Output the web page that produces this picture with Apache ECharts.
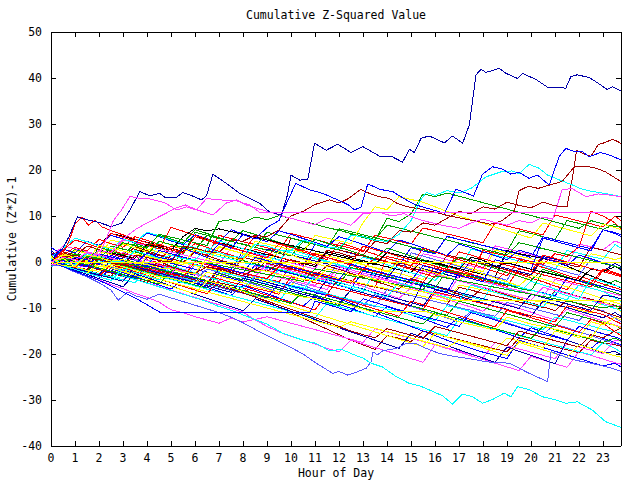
<!DOCTYPE html>
<html><head><meta charset="utf-8">
<script src="https://cdn.jsdelivr.net/npm/echarts@6/dist/echarts.min.js"></script>
<style>html,body{margin:0;padding:0;background:#fff}#c{width:640px;height:480px}#c svg path{shape-rendering:crispEdges}</style>
</head><body><div id="c"></div>
<script>
const TITLE = 'Cumulative Z-Squared Value';
const X_NAME = 'Hour of Day';
const Y_NAME = 'Cumulative (Z*Z)-1';
const X_MIN = 0, X_MAX = 23.75, Y_MIN = -40, Y_MAX = 50;

// sample times (hours) for the half-hourly series
const HALF_HOURS = [0,0.5,1,1.5,2,2.5,3,3.5,4,4.5,5,5.5,6,6.5,7,7.5,8,8.5,9,9.5,10,10.5,11,11.5,12,12.5,13,13.5,14,14.5,15,15.5,16,16.5,17,17.5,18,18.5,19,19.5,20,20.5,21,21.5,22,22.5,23,23.5,23.75];

const RED='#ff0000', GREEN='#00a000', BLUE='#0000ff', MAGENTA='#ff40ff', CYAN='#00ffff',
      DARKRED='#a00000', YELLOW='#ffff00', BLACK='#000000', NAVY='#0000a8', PERI='#5a5aff';

// ---- traced outlier lines: [hour, value] ----
const NAVY_TOP = [[0,0],[0.25,2],[0.5,3],[0.75,5.5],[1.1,9.8],[1.5,9.2],[2,8.6],[2.5,7.7],[2.94,8.4],[3.29,11.3],[3.7,15.3],[4.12,14.4],[4.53,14.9],[4.74,14.1],[5.23,14.1],[5.5,15.1],[5.92,14.3],[6.27,13.5],[6.48,14.4],[6.75,19.1],[7.3,17.1],[7.86,14.9],[8.28,13.8],[8.69,12.8],[9.1,10.9],[9.6,10.2],[9.85,14.5],[10.0,18.9],[10.36,17.8],[10.7,18.0],[10.98,25.8],[11.47,24.3],[11.95,25.6],[12.5,23.8],[12.99,25.1],[13.69,23.0],[14.17,23.0],[14.65,21.7],[14.93,24.5],[15.14,23.8],[15.42,26.9],[15.76,27.4],[16.39,25.9],[16.73,27.4],[17.15,25.8],[17.43,29.8],[17.71,40.7],[17.92,41.9],[18.12,41.2],[18.68,42.1],[18.96,41.0],[19.44,39.9],[19.65,41.0],[20.2,39.7],[20.69,38.0],[21.45,37.8],[21.66,40.3],[21.93,40.7],[22.42,40.1],[22.7,39.2],[23.18,37.5],[23.39,38.1],[23.75,37.2]];
const BLUE_HIGH = [[0,0],[0.5,-0.5],[1,1],[1.5,0.5],[2,-0.5],[2.5,1.5],[3,0.5],[3.5,-0.5],[4,2],[4.5,1],[5,0.5],[5.5,3],[6,2],[6.5,1],[7,4],[7.5,3],[8,6],[8.5,5],[9,7.5],[9.5,9],[9.8,12.6],[10.2,17.1],[10.77,15.7],[11.33,14.9],[11.95,13.5],[12.4,12.4],[12.65,11.3],[12.92,12.0],[13.2,17.0],[13.69,15.8],[14.24,15.3],[14.8,13.5],[15.2,12.4],[15.8,11.5],[16.4,10.6],[16.87,15.8],[17.3,15.0],[17.6,14.3],[17.98,19.1],[18.4,20.7],[18.8,20.2],[19.16,19.1],[19.5,19.5],[19.92,18.2],[20.27,18.9],[20.76,16.7],[21.17,22.9],[21.45,24.7],[21.8,24.0],[22.14,24.0],[22.42,22.9],[22.9,23.8],[23.3,23.2],[23.75,22.2]];
const CYAN_HIGH = [[0,0.5],[0.5,-0.3],[1,-0.5],[1.5,1.8],[2,1],[2.5,0.2],[3,0],[3.5,2.5],[4,1.6],[4.5,0.8],[5,1.5],[5.5,0.7],[6,0.5],[6.5,3],[7,2],[7.5,1.2],[8,1],[8.5,3.8],[9,3.5],[9.5,2.6],[10,2.5],[10.5,4.8],[11,4],[11.5,3.2],[12,3],[12.5,5.8],[13,5.5],[13.5,4.7],[14,4.5],[14.5,6],[15,9],[15.4,13.5],[15.63,15.1],[16,14.5],[16.5,15.5],[17,15],[17.5,16],[18.12,18.5],[18.75,19.6],[19.2,19.8],[19.5,19.2],[19.92,21.2],[20.3,20.5],[20.69,18.9],[21.2,17.8],[21.7,16.8],[22.14,15.8],[22.6,15.3],[23.1,14.9],[23.75,14.2]];
const DARKRED_HIGH = [[0,0],[0.5,1],[1,1.5],[1.5,0.8],[2,0.5],[2.5,-0.2],[3,-1],[3.5,1.5],[4,1],[4.5,0.3],[5,0],[5.5,3.5],[6,3],[6.5,2.3],[7,2],[7.5,4.8],[8,4.5],[8.5,5.8],[9,5.5],[9.5,7],[10,10],[10.5,11],[11,12.5],[11.6,13.5],[12.0,12.8],[12.4,13.8],[12.9,15.8],[13.27,14.9],[13.69,14.2],[14.1,13.8],[14.4,12.8],[14.86,12.0],[15.4,11.5],[16,10.8],[16.6,10],[17.2,9.4],[17.8,8.8],[18.3,8.2],[18.8,9],[19.3,11],[19.5,15.5],[19.9,16.5],[20.3,16],[20.76,16.7],[21.3,17.5],[21.8,20.7],[22.42,20.7],[22.7,20.4],[23.1,19.6],[23.75,17.5]];
const DARKRED_26 = [[0,0],[0.5,-0.8],[1,-1],[1.5,0.8],[2,0.5],[2.5,-0.2],[3,-0.5],[3.5,-1.3],[4,-2],[4.5,0.2],[5,-1],[5.5,-1.8],[6,-2.5],[6.5,-1],[7,-1.5],[7.5,-2.3],[8,-3],[8.5,-1.5],[9,-2],[9.5,-0.5],[10,0.5],[10.5,-0.2],[11,-0.5],[11.5,2.5],[12,2],[12.5,1.2],[13,1.5],[13.5,4.5],[14,4],[14.5,6.8],[15,6.5],[15.5,8.5],[16,8],[16.5,9.5],[17,11],[17.5,10.5],[18,12],[18.5,11.5],[19,13],[19.5,12.3],[20,11.8],[20.5,13],[21,12.2],[21.5,12],[21.75,19],[21.9,24.3],[22.2,23.5],[22.5,23],[22.8,25.5],[23.1,26.0],[23.4,26.7],[23.6,26.2],[23.75,25.8]];
const MAGENTA_FLAT = [[0,0],[0.5,1],[1,0.5],[1.5,2],[2,1.5],[2.3,5],[2.6,9],[2.94,11.3],[3.29,14.3],[3.7,13.8],[4.12,13.7],[4.74,12.9],[5.23,11.3],[5.64,12.0],[6.06,11.3],[6.48,13.8],[7.03,13.5],[7.72,13.3],[8.28,12.4],[8.69,10.8],[23.75,10.8]];
const MAGENTA_HIGH = [[0,0],[0.5,-0.5],[1,1],[1.5,0.5],[2,2.5],[2.5,2],[3,5],[3.5,7],[4,8.5],[4.53,9.9],[5.2,11.7],[5.6,12.4],[6.1,11.3],[6.75,10.2],[7.3,12.8],[7.72,13.5],[8.14,12.4],[8.56,11.7],[9.1,10.9],[9.5,10.2],[10,9.5],[10.5,8.8],[11,8.1],[11.5,9.5],[12,8.8],[12.5,8],[13,10.5],[13.7,10.8],[14.2,10],[14.7,10.5],[15.3,9.3],[15.8,8.6],[16.3,8],[17,7.3],[17.5,8.5],[18,9.3],[18.5,8.6],[19,8],[19.5,9],[20,8.5],[20.5,9.8],[20.9,9.3],[21.3,15.7],[21.7,16],[22.3,14.2],[22.8,14.8],[23.2,14.6],[23.75,14.2]];
const BLUE_FLAT = [[0,0],[0.5,-1],[1,-2],[1.5,-3],[2,-4],[2.5,-5.2],[3,-6.5],[3.5,-7.8],[4,-9.3],[4.53,-10.9],[10.8,-10.9],[11.0,-8.5],[11.5,-9.2],[12,-10],[12.5,-10.8],[13,-8],[13.5,-8.8],[14,-9.6],[14.5,-10.4],[15,-11],[15.5,-11.8],[16,-12.5],[16.5,-13.2],[17,-14],[17.5,-11],[18,-11.8],[18.5,-12.6],[19,-13.4],[19.5,-14.2],[20,-15],[20.5,-15.7],[21,-16.3],[21.5,-17],[22,-14],[22.5,-14.8],[23,-15.6],[23.5,-16.3],[23.75,-16.8]];
const YELLOW_FLAT0 = [[0,1.2],[0.25,0],[23.75,0]];
const YELLOW_FLAT8 = [[0,0],[0.5,-0.8],[1,-1],[1.5,1.5],[2,1],[2.5,0.2],[3,0.5],[3.5,-0.3],[4,-0.5],[4.5,-1.3],[5,-1.5],[5.5,-2.3],[6,-2.5],[6.5,0.8],[7,0],[7.5,-0.8],[8,-1],[8.5,-1.8],[9,-2],[9.5,-2.8],[10,-3],[10.5,-3.8],[11,-4],[11.5,-1.5],[12,-2],[12.5,-2.8],[13,-3],[13.5,-3.8],[14,-4.5],[14.5,-5.3],[15,-6],[15.5,-6.5],[16,-7],[16.4,-7.8],[16.7,-8.3],[23.75,-8.3]];
const YELLOW_FLAT11 = [[0,0],[0.5,0.8],[1,-1],[1.5,-1.8],[2,-2],[2.5,-0.5],[3,-1],[3.5,-1.8],[4,-2.5],[4.5,-3.2],[5,-3.5],[5.5,-4.2],[6,-4.5],[6.5,-2.2],[7,-3],[7.5,-3.8],[8,-4.5],[8.5,-5.3],[9,-6],[9.5,-6.6],[10,-7],[10.5,-7.6],[11,-8],[11.5,-8.6],[12,-9],[12.5,-9.5],[12.8,-10],[13.3,-10.7],[15.6,-10.7],[16,-11.5],[16.5,-12],[17,-13],[17.5,-13.6],[18,-14.2],[18.5,-14.8],[19,-12],[19.5,-12.7],[20,-13.5],[20.5,-14],[21,-14.6],[21.5,-15.2],[22,-16],[22.5,-16.5],[23,-13],[23.5,-13.8],[23.75,-14.3]];
const CYAN_BOTTOM = [[0,0],[0.5,-0.8],[1,-1.6],[1.5,-2.4],[2,-3.2],[2.5,-4.0],[3,-3.0],[3.5,-3.8],[4,-4.6],[4.5,-5.4],[5,-6.2],[5.5,-7.0],[6,-7.8],[6.5,-8.6],[6.9,-9.5],[7.5,-10.5],[8,-11.5],[8.5,-12.5],[9,-13.5],[9.66,-15.5],[10.5,-17],[11.05,-17.7],[11.6,-19.3],[12.1,-19.0],[12.65,-20.2],[13.0,-20.9],[13.34,-22.0],[13.8,-22.8],[14.38,-24.9],[14.93,-26.4],[15.35,-26.9],[15.76,-27.8],[16.32,-29.1],[16.73,-30.9],[17.15,-28.7],[17.57,-29.3],[17.98,-30.7],[18.4,-29.9],[18.88,-28.5],[19.16,-29.3],[19.44,-27.1],[19.92,-27.7],[20.48,-29.3],[21.04,-30.0],[21.45,-30.7],[21.93,-30.4],[22.56,-32.2],[23.1,-34.7],[23.67,-35.8],[23.75,-36]];
const PERI_LOW = [[0,0],[0.5,-1],[1,-2.2],[1.5,-3.2],[2,-4.5],[2.5,-6.1],[2.8,-8.3],[3.2,-6.5],[3.5,-7.3],[4,-8.1],[4.5,-7],[5,-7.8],[5.5,-8.6],[6,-9.4],[6.5,-10.2],[7,-11],[7.5,-12],[8,-13.2],[8.56,-14.8],[9,-16],[9.5,-17.3],[10,-18.6],[10.5,-20],[11.05,-22],[11.74,-24.2],[12.0,-23.8],[12.37,-24.6],[12.7,-24],[13.13,-23.1],[13.34,-21.7],[13.41,-19.5],[13.6,-20.2],[13.82,-19.3],[14.38,-18.8],[14.8,-17.7],[15.2,-17.7],[15.6,-18.7],[16.18,-19.9],[16.87,-20.6],[17.43,-21.0],[18.12,-21.7],[19.1,-22.0],[19.92,-24.2],[20.69,-26.0],[20.83,-19.5],[21.2,-20.2],[21.6,-21],[22,-21.5],[22.5,-22],[23,-22.6],[23.5,-23.3],[23.75,-23.8]];
const RED_EARLY = [[0,0],[0.5,2],[0.75,4.5],[1,8.3],[1.3,9.8],[1.55,8],[1.83,9.1],[2.1,7.7],[2.5,6.8],[3,5.9],[3.5,5.0],[4,4.2],[4.5,3.4],[5,2.6],[5.5,1.9],[6,5.5],[6.5,4.7],[7,3.9],[7.5,3.1],[8,2.4],[8.5,1.6],[9,0.9],[9.5,4.0],[10,3.2],[10.5,2.5],[11,1.7],[11.5,1.0],[12,0.3],[12.5,-0.4],[13,3.5],[13.5,2.7],[14,2.0],[14.5,1.2],[15,0.5],[15.5,-0.2],[16,-0.9],[16.5,-1.6],[17,2.2],[17.5,1.5],[18,0.7],[18.5,0],[19,-0.7],[19.5,-1.4],[20,-2.1],[20.5,1.5],[21,0.8],[21.5,0],[22,-0.7],[22.5,-1.4],[23,-2.1],[23.5,-2.8],[23.75,-3.2]];

// ---- bundle lines, values at HALF_HOURS ----
const B1 = [-0.8,1.2,0.6,0,-0.6,2.5,1.8,1.2,0.5,-0.2,3.5,2.8,2.2,1.5,5.8,5.1,4.4,3.8,3.1,2.5,6.2,5.5,4.9,4.2,3.6,3.0,2.3,5.8,5.2,4.5,3.9,7.4,6.8,6.1,5.5,4.8,4.2,8.5,7.8,7.2,6.5,5.9,10.2,9.6,8.9,8.3,7.6,10,9];
const B2 = [0.5,-0.2,2.8,2.1,1.5,0.8,0.2,-0.5,3.6,2.9,2.3,1.6,6.5,5.8,5.2,4.5,3.9,3.2,2.6,1.9,1.3,4.4,3.8,3.1,7.2,6.6,5.9,5.3,4.6,4.0,3.3,2.7,2.0,5.5,4.9,4.2,3.6,2.9,2.3,6.8,6.2,5.5,4.9,9.0,8.4,7.7,7.1,8.2,7.5];
const B3 = [1.2,-0.6,-1.2,2.0,1.4,0.7,0.1,-0.5,-1.2,-1.8,1.5,0.9,0.2,-0.4,-1.1,-1.7,2.4,1.8,1.1,0.5,-0.2,-0.8,3.9,3.2,2.6,1.9,1.3,0.6,0,-0.7,3.1,2.4,1.8,5.6,4.9,4.3,3.6,3.0,2.3,1.7,1.0,5.5,4.8,4.2,3.5,2.9,7.0,6.4,5.9];
const B4 = [1.0,3.5,2.9,2.2,1.6,0.9,4.8,4.2,3.5,2.9,2.2,1.6,0.9,0.3,-0.4,3.0,2.4,1.7,1.1,0.4,-0.2,-0.9,-1.5,2.2,1.6,0.9,0.3,-0.4,-1.0,-1.7,-2.3,1.8,1.2,0.5,-0.1,-0.8,-1.4,3.5,2.9,2.2,1.6,0.9,0.3,-0.4,3.9,3.3,2.6,4.6,4.0];
const B5 = [-0.9,-0.7,-1.3,-2.0,1.2,0.5,-0.1,-0.8,-1.4,4.5,3.8,3.2,2.5,1.9,1.2,0.6,-0.1,-0.7,-1.4,2.6,2.0,1.3,0.7,0,-0.6,-1.3,-1.9,-2.6,-3.2,1.5,0.9,0.2,-0.4,-1.1,-1.7,2.8,2.2,1.5,0.9,0.2,-0.4,-1.1,-1.7,2.5,1.9,1.2,0.6,3.8,3.0];
const B6 = [1.8,2.2,1.6,0.9,0.3,-0.4,-1.0,2.7,2.1,1.4,0.8,0.1,-0.5,-1.2,-1.8,-2.5,1.0,0.4,-0.3,-0.9,5.2,4.6,3.9,3.3,2.6,2.0,1.3,0.7,0,-0.6,-1.3,-1.9,-2.6,1.5,0.9,0.2,-0.4,-1.1,-1.7,-2.4,-3.0,0.8,0.2,-0.5,-1.1,3.2,2.6,1.9,1.6];
const B7 = [0.6,-0.5,2.5,1.9,1.2,4.8,4.1,3.5,2.8,2.2,1.5,0.9,0.2,-0.4,3.2,2.5,1.9,1.2,0.6,-0.1,-0.7,-1.4,2.0,1.4,0.7,0.1,-0.6,-1.2,-1.9,-2.5,-3.2,-3.8,0.5,-0.1,-0.8,-1.4,-2.1,2.6,2.0,1.3,0.7,0,-0.6,-1.3,-1.9,1.8,1.2,0.5,0.9];
const B8 = [0,-1.0,-1.6,-2.3,3.5,6.2,5.6,4.9,4.3,3.6,3.0,2.3,5.5,4.9,4.2,3.6,2.9,2.3,1.6,1.0,0.3,-0.3,-1.0,2.2,1.6,0.9,0.3,-0.4,-1.0,-1.7,-2.3,0.5,-0.1,-0.8,-1.4,-2.1,-2.7,-3.4,2.5,1.8,1.3,0.8,0.1,-0.9,-2.0,-3.0,-4.0,-5.0,-5.6];
const B9 = [2.5,0.5,-0.1,-0.8,-1.4,-2.1,1.0,0.4,-0.3,-0.9,-1.6,-2.2,-2.9,0.8,0.2,-0.5,-1.1,-1.8,2.8,2.2,1.5,0.9,0.2,-0.4,-1.1,-1.7,-2.4,-3.0,-3.7,-0.2,-0.8,-1.5,-2.1,-2.8,-3.4,0.5,-0.1,-0.8,-1.4,-2.1,-2.7,1.2,0.6,-0.1,-0.7,-1.4,-2.0,-0.3,-1.0];
const B10 = [0,-0.8,-1.5,-2.3,-3.0,0.4,-0.3,-1.1,-1.8,-2.6,-3.3,-4.1,-0.5,-1.3,-2.0,-2.8,1.6,0.9,0.1,-0.6,-1.4,-2.1,-2.9,-3.6,0.2,-0.5,-1.3,-2.0,-2.8,-3.5,2.0,1.3,0.5,-0.2,-1.0,-1.7,-2.5,-3.2,-4.0,0.8,0.1,-0.7,-1.4,-2.2,-2.9,0.6,-0.1,-0.9,-1.8];
const B11 = [-0.5,-0.6,1.8,1.2,0.5,-0.1,-0.8,-1.4,-2.1,-2.7,1.5,0.9,0.2,-0.4,-1.1,-1.7,-2.4,-3.0,-3.7,-4.3,-1.0,-1.6,-2.3,-2.9,-3.6,-4.2,-4.9,-5.5,1.2,0.6,-0.1,-0.7,-1.4,-2.0,-2.7,-3.3,-4.0,-4.6,-5.3,-1.5,-2.1,-2.8,-3.4,-4.1,-4.7,-5.4,-1.8,-2.5,-3.0];
const B12 = [-0.8,-0.7,-1.3,-2.0,-2.6,-3.3,0.5,-0.1,-0.8,-1.4,-2.1,3.5,2.9,2.2,1.6,0.9,0.3,-0.4,-1.0,-1.7,-2.3,-3.0,-3.6,-4.3,-4.9,-1.2,-1.8,-2.5,-3.1,-3.8,-4.4,-5.1,-5.7,-1.8,-2.4,-3.1,-3.7,-4.4,-5.0,-5.7,-6.3,-2.1,-2.7,-3.4,-4.0,-4.7,-5.3,-4.0,-4.5];
const B13 = [3.2,1.5,0.9,0.2,-0.4,-1.1,-1.7,-2.4,1.0,0.4,-0.3,-0.9,-1.6,-2.2,-2.9,-3.5,-4.2,-0.6,-1.2,-1.9,-2.5,-3.2,-3.8,-4.5,-5.1,-5.8,-2.0,-2.6,-3.3,-3.9,-4.6,-5.2,-5.9,-6.5,-2.2,-2.8,-3.5,-4.1,-4.8,-5.4,-6.1,-6.7,-7.4,-3.5,-4.1,-4.8,-5.4,-6.1,-6.4];
const B14 = [-0.5,-0.6,-1.3,-1.9,2.5,1.9,1.2,0.6,-0.1,-0.7,-1.4,-2.0,-2.7,-3.3,-4.0,-0.8,-1.4,-2.1,-2.7,-3.4,-4.0,-4.7,-5.3,-6.0,-1.5,-2.1,-2.8,-3.4,-4.1,-4.7,-5.4,-6.0,-6.7,-7.3,-3.0,-3.6,-4.3,-4.9,-5.6,-6.2,-6.9,-7.5,-3.8,-4.4,-5.1,-5.7,-6.4,-7.0,-7.3];
const B15 = [0,-0.7,-1.4,1.0,0.3,-0.4,-1.1,-1.8,-2.5,-3.2,0.8,0.1,-0.6,-1.3,-2.0,-2.7,-3.4,-4.1,-4.8,-1.5,-2.2,-2.9,-3.6,-4.3,-5.0,-5.7,-6.4,-2.0,-2.7,-3.4,-4.1,-4.8,-5.5,-6.2,-6.9,-7.6,-8.3,-4.0,-4.7,-5.4,-6.1,-6.8,-7.5,-8.2,-5.0,-5.7,-6.4,-7.8,-8.6];
const B16 = [0.9,-0.6,-1.2,-1.9,-2.5,-3.1,-0.2,-0.8,-1.5,-2.1,-2.7,-3.4,-4.0,-4.6,-1.3,-1.9,-2.6,-3.2,-3.8,-4.5,-5.1,-5.7,-6.4,-7.0,-3.5,-4.1,-4.8,-5.4,-6.0,-6.7,-7.3,-7.9,-8.6,-9.2,-5.5,-6.1,-6.8,-7.4,-8.0,-8.7,-9.3,-9.9,-6.2,-6.8,-7.5,-8.1,-8.7,-9.4,-10.0];
const B17 = [0,0.8,0.2,-0.3,-0.9,-1.4,-2.0,-2.5,1.4,0.9,0.3,-0.2,-0.8,-1.3,-1.9,-2.4,-3.0,-3.5,-4.1,-4.6,-5.2,-2.0,-2.5,-3.1,-3.6,-4.2,-4.7,-5.3,-5.8,-6.4,-6.9,-7.5,-8.0,-8.6,-5.0,-5.5,-6.1,-6.6,-7.2,-7.7,-8.3,-8.8,-9.4,-9.9,-10.5,-11.0,-8.6,-9.6,-10.9];
const B18 = [0,-0.7,-1.5,-2.2,-2.9,0.6,-0.1,-0.9,-1.6,-2.3,-3.0,-3.8,-4.5,-5.2,-1.5,-2.2,-3.0,-3.7,-4.4,-5.1,-5.9,-6.6,-7.3,-3.8,-4.5,-5.2,-5.9,-6.7,-7.4,-8.1,-8.8,-9.6,-6.0,-6.7,-7.4,-8.2,-8.9,-9.6,-10.3,-11.1,-11.8,-8.5,-9.2,-9.9,-10.7,-11.4,-12.1,-11.0,-11.8];
const B19 = [-0.9,-0.6,-1.3,-1.9,-2.6,-3.2,-3.9,-1.0,-1.6,-2.3,-2.9,-3.6,-4.2,-4.9,-5.5,-6.2,-6.8,-3.2,-3.8,-4.5,-5.1,-5.8,-6.4,-7.1,-7.7,-8.4,-9.0,-9.7,-6.0,-6.6,-7.3,-7.9,-8.6,-9.2,-9.9,-10.5,-11.2,-11.8,-8.8,-9.4,-10.1,-10.7,-11.4,-12.0,-12.7,-10.0,-10.6,-12.2,-13.0];
const B20 = [0,0.5,-0.2,-0.8,-1.5,-2.1,-2.8,-3.4,-4.1,-0.5,-1.1,-1.8,-2.4,-3.1,-3.7,-4.4,-5.0,-5.7,-6.3,-7.0,-3.2,-3.8,-4.5,-5.1,-5.8,-6.4,-7.1,-7.7,-8.4,-9.0,-9.7,-10.3,-6.5,-7.1,-7.8,-8.4,-9.1,-9.7,-10.4,-11.0,-11.7,-12.3,-13.0,-9.5,-10.1,-10.8,-11.4,-12.8,-13.4];
const B21 = [1.4,-0.7,-1.4,-2.1,0.6,-0.1,-0.8,-1.5,-2.2,-2.9,-3.6,-4.3,-5.0,-5.7,-2.5,-3.2,-3.9,-4.6,-5.3,-6.0,-6.7,-7.4,-8.1,-8.8,-9.5,-6.0,-6.7,-7.4,-8.1,-8.8,-9.5,-10.2,-10.9,-11.6,-8.5,-9.2,-9.9,-10.6,-11.3,-12.0,-12.7,-13.4,-14.1,-11.0,-11.7,-12.4,-13.1,-13.8,-14.4];
const B22 = [0.7,-0.6,-1.3,-1.9,-2.6,-3.2,-3.9,-4.5,-1.5,-2.1,-2.8,-3.4,-4.1,-4.7,-5.4,-6.0,-6.7,-7.3,-8.0,-8.6,-5.0,-5.6,-6.3,-6.9,-7.6,-8.2,-8.9,-9.5,-10.2,-10.8,-11.5,-12.1,-12.8,-9.5,-10.1,-10.8,-11.4,-12.1,-12.7,-13.4,-14.0,-14.7,-12.0,-12.6,-13.3,-13.9,-14.6,-15.2,-15.5];
const B23 = [0,-0.5,-1.1,-1.6,1.0,0.4,-0.1,-0.7,-1.2,-1.8,-2.3,-2.9,-3.4,-4.0,-4.5,-5.1,-5.6,-7.5,-8.7,-9.9,-11.0,-12.2,-13.4,-14.6,-15.8,-17.0,-18.0,-19.0,-16.0,-16.6,-17.3,-15.0,-15.6,-16.3,-16.9,-17.6,-18.2,-18.9,-19.5,-16.5,-17.1,-17.8,-18.4,-19.1,-19.7,-17.0,-17.6,-18.0,-18.3];
const B24 = [0,-1.0,-2.0,-3.0,-3.9,-4.9,-5.8,-6.8,-7.7,-8.7,-10.4,-11.0,-11.9,-12.6,-13.3,-12.2,-13.0,-12.5,-11.9,-12.6,-13.3,-14.0,-14.7,-15.4,-16.1,-16.8,-17.5,-14.5,-15.2,-15.9,-16.6,-17.3,-18.0,-18.7,-19.4,-20.1,-20.8,-17.5,-18.2,-18.9,-19.6,-20.3,-21.0,-17.8,-18.5,-19.2,-19.9,-17.0,-17.2];
const B25 = [0,-0.8,-1.6,-0.5,-1.3,-2.1,-2.9,-3.7,-4.5,-5.3,-6.1,-6.9,-7.7,-8.5,-9.3,-10.1,-10.9,-12.6,-14.0,-15.2,-16.2,-17.0,-17.8,-18.8,-19.5,-17.0,-17.8,-18.6,-19.4,-20.2,-21.0,-21.8,-18.0,-18.8,-19.6,-20.4,-21.2,-22.0,-22.8,-23.6,-20.5,-21.3,-22.1,-22.9,-19.5,-20.3,-21.1,-21.9,-22.2];
const B26 = [0,-0.7,-1.4,-2.1,-2.8,-3.5,-1.0,-1.7,-2.4,-3.1,-3.8,-4.5,-5.2,-5.9,-6.6,-7.3,-8.0,-8.7,-9.4,-10.1,-10.8,-11.5,-12.2,-9.0,-9.7,-10.4,-11.1,-11.8,-12.5,-13.2,-13.9,-14.6,-15.3,-16.0,-12.5,-13.2,-13.9,-14.6,-15.3,-16.0,-16.7,-17.4,-18.1,-18.8,-19.5,-20.2,-17.5,-18.8,-19.6];
const B27 = [0,0.6,-0.1,-0.8,-1.5,-2.2,-2.9,-3.6,-0.8,-1.5,-2.2,-2.9,-3.6,-4.3,-5.0,-5.7,-6.4,-7.1,-7.8,-4.5,-5.2,-5.9,-6.6,-7.3,-8.0,-9.0,-10.0,-11.0,-12.0,-13.0,-14.0,-15.0,-16.0,-17.0,-17.9,-18.8,-19.6,-20.3,-21.0,-17.0,-17.8,-18.6,-19.4,-20.2,-21.0,-21.8,-22.6,-22.0,-22.8];
const B28 = [0.5,-0.8,-1.6,-2.4,-3.2,-0.5,-1.3,-2.1,-2.9,-3.7,-4.5,-5.3,-6.1,-6.9,-4.0,-4.8,-5.6,-6.4,-7.2,-8.0,-8.8,-9.6,-10.4,-7.0,-7.8,-8.6,-9.4,-10.2,-11.0,-11.8,-8.5,-9.3,-10.1,-10.9,-11.7,-12.5,-13.3,-14.1,-10.5,-11.3,-12.1,-12.9,-13.7,-14.5,-15.3,-12.5,-13.3,-15.2,-16.0];
const B29 = [0,0.8,0.1,-0.6,-1.3,-2.0,-2.7,-3.4,-4.1,-4.8,-2.0,-2.7,-3.4,-4.1,-4.8,-5.5,-6.2,-6.9,-7.6,-8.3,-9.0,-6.5,-7.2,-7.9,-8.6,-9.3,-10.0,-10.7,-11.4,-12.1,-12.8,-13.5,-11.0,-11.7,-12.4,-13.1,-13.8,-14.5,-15.2,-15.9,-16.6,-14.0,-14.7,-15.4,-16.1,-16.8,-17.5,-16.5,-17.2];
const B30 = [0,-0.9,-1.8,-2.7,-3.6,-4.5,-5.4,-2.5,-3.4,-4.3,-5.2,-6.1,-7.0,-7.9,-8.8,-9.7,-10.6,-8.0,-8.9,-9.8,-10.7,-11.6,-12.5,-13.4,-14.3,-15.2,-16.1,-17.0,-17.9,-18.8,-15.5,-16.4,-17.3,-18.2,-19.1,-20.0,-20.9,-21.8,-18.5,-19.4,-20.3,-21.2,-22.1,-17.0,-17.9,-18.8,-19.7,-19.5,-20.1];
const B31 = [0,-0.7,1.2,0.5,-0.2,-0.9,-1.6,-2.3,-3.0,-3.7,-4.4,-5.1,-5.8,-6.5,-7.2,-7.9,-8.6,-9.3,-10.0,-10.7,-11.4,-12.1,-12.8,-13.5,-14.2,-13.0,-13.7,-14.4,-15.1,-15.8,-16.5,-17.2,-17.9,-18.6,-17.0,-17.7,-18.4,-19.1,-16.5,-17.2,-17.9,-18.6,-15.0,-15.7,-16.4,-13.0,-13.7,-12.0,-12.6];
const B32 = [0,0.4,-0.3,-1.0,-1.7,-2.4,-3.1,-3.8,-4.5,-1.8,-2.5,-3.2,-3.9,-4.6,-5.3,-6.0,-6.7,-7.6,-8.5,-9.4,-10.3,-11.2,-12.1,-13.0,-14.0,-15.0,-15.8,-16.5,-14.5,-15.2,-15.9,-16.6,-14.0,-14.7,-15.4,-16.1,-16.8,-17.5,-18.2,-15.0,-15.7,-16.4,-17.1,-17.8,-18.5,-15.8,-16.5,-15.0,-14.3];
const B33 = [0,0.6,-0.1,2.2,1.5,0.8,0.1,-0.6,-1.3,-2.0,-2.7,1.0,0.3,-0.4,-1.1,-1.8,-2.5,-3.2,-0.5,-1.2,-1.9,-2.6,-3.3,-4.0,-1.0,-1.7,-2.4,-3.1,-3.8,-4.5,-5.2,-2.0,-2.7,-3.4,-4.1,-4.8,-5.5,-6.2,-6.9,-7.6,-8.3,-5.5,-6.2,-6.9,-7.6,-8.3,-9.0,-9.7,-9.5];
const B34 = [0,-0.8,-1.6,-2.4,-3.2,-4.0,-1.5,-2.3,-3.1,-3.9,-0.8,-1.6,-2.4,-3.2,-4.0,-4.8,-5.6,-3.0,-3.8,-4.6,-5.4,-6.2,-2.8,-3.6,-4.4,-5.2,-6.0,-6.8,-7.6,-4.5,-5.3,-6.1,-6.9,-7.7,-8.5,-5.0,-5.8,-6.6,-7.4,-8.2,-9.0,-9.8,-6.5,-7.3,-8.1,-3.5,-4.3,-5.1,-5.5];
const B35 = [0,-0.6,-1.2,1.5,0.9,0.3,-0.3,-0.9,-1.5,-2.1,-2.7,-3.3,0,-0.6,-1.2,-1.8,-2.4,-3.0,-3.6,-1.0,-1.6,-2.2,-2.8,-3.4,-4.0,-4.6,-1.5,-2.1,-2.7,-3.3,-3.9,-4.5,-1.0,-1.6,-2.2,-2.8,2.5,1.9,1.3,0.7,0.1,-0.5,1.8,1.2,3.3,11.0,10.0,8.5,7.2];
const B36 = [1.9,0.3,-0.4,-1.1,1.8,1.1,0.4,-0.3,-1.0,2.5,1.8,1.1,0.4,-0.3,-1.0,-1.7,-2.4,1.0,0.3,-0.4,-1.1,-1.8,-2.5,-3.2,-3.9,-0.5,-1.2,-1.9,-2.6,-3.3,-4.0,-0.8,-1.5,-2.2,-2.9,-3.6,-4.3,0.5,-0.2,-0.9,-1.6,5.2,4.5,3.8,3.1,2.4,7.0,6.2,5.5];
const B37 = [0,-0.7,-1.4,-2.1,-2.8,-3.5,-4.2,-1.0,-1.7,-2.4,-3.1,-3.8,-4.5,-5.2,-5.9,-6.6,-3.5,-4.2,-4.9,-5.6,-6.3,-7.0,-7.7,-8.4,-9.1,-6.0,-6.7,-7.4,-8.1,-8.8,-9.5,-4.5,-5.2,-5.9,-6.6,-7.3,-8.0,-8.7,-9.4,-10.1,-7.0,-7.7,-8.4,-9.1,-9.8,-10.5,-7.2,-7.6,-8.0];
const B38 = [0,-0.8,-1.6,-2.4,-0.5,-1.3,-2.1,-2.9,-3.7,-4.5,-5.3,-6.1,-6.9,-4.0,-4.8,-5.6,-6.4,-7.2,-8.0,-8.8,-9.6,-10.4,-11.2,-12.0,-12.8,-13.6,-14.4,-15.2,-16.0,-16.8,-17.6,-18.4,-15.5,-16.3,-17.1,-17.9,-18.7,-19.5,-20.3,-17.5,-18.3,-19.1,-19.9,-20.7,-18.0,-18.8,-19.6,-20.4,-20.7];
const B39 = [1.2,-0.5,0.8,0.2,2.6,2.0,1.4,0.8,3.8,3.2,2.6,5.5,7.3,6.8,7.2,6.6,6.0,5.4,4.8,4.2,3.6,3.0,2.4,1.8,1.2,0.6,0,-0.6,2.1,1.5,0.9,0.3,-0.3,-0.9,-1.5,1.0,0.4,-1.0,-0.2,-0.8,-1.6,-2.2,-2.8,-3.4,-4.0,-1.5,-2.1,-1.0,-1.6];
const B40 = [0,-0.5,-1.0,1.3,0.8,0.3,-0.2,-0.7,-1.2,-1.7,-2.2,0.8,0.3,-0.2,-0.7,-1.2,-1.7,-2.2,-2.7,-3.2,-3.7,-4.2,-1.5,-2.0,-2.5,-3.0,-3.5,-4.0,-4.5,-5.0,-5.5,-6.0,-3.0,-3.5,-4.0,-4.5,-5.0,-5.5,-6.0,-6.5,-7.0,-7.5,-8.0,-8.5,-9.0,-9.5,-10.0,-9.5,-9.8];
const C1 = [0.5,2.8,2.0,4.5,3.6,5.8,5.0,4.1,6.3,5.5,4.6,3.8,5.9,5.1,4.2,7.0,6.1,5.3,4.4,6.8,6.0,5.1,4.3,3.4,5.5,4.7,3.8,3.0,2.1,4.8,4.0,3.1,2.3,1.4,3.9,3.1,2.2,1.4,0.5,2.6,1.8,0.9,0.1,-0.8,1.5,0.7,-0.2,-1.0,-1.5];
const C2 = [0,1.5,3.2,2.4,4.9,4.0,3.2,5.5,4.7,3.8,3.0,2.1,4.0,3.2,2.3,1.5,0.6,2.8,2.0,1.1,0.3,-0.6,1.8,1.0,0.1,-0.7,-1.6,0.9,0.1,-0.8,-1.6,-2.5,-3.3,-0.9,-1.7,-2.6,-3.4,-4.3,-1.8,-2.6,-3.5,-4.3,-5.2,-6.0,-3.1,-3.9,-4.8,-5.6,-6.0];
const C3 = [1.0,3.0,5.2,4.4,3.5,2.7,5.0,4.2,6.5,5.7,4.8,4.0,3.1,2.3,4.6,3.8,2.9,2.1,1.2,0.4,2.7,1.9,1.0,0.2,-0.7,-1.5,1.1,0.3,-0.6,-1.4,-2.3,-3.1,-4.0,-1.5,-2.3,-3.2,-4.0,-4.9,-5.7,-6.6,-4.2,-5.0,-5.9,-6.7,-7.6,-8.4,-9.3,-10.1,-10.5];
const C4 = [0,-0.6,1.6,0.8,3.2,2.4,1.5,4.0,3.2,5.8,5.0,4.1,7.0,6.2,5.3,4.5,6.8,6.0,5.1,4.3,3.4,2.6,4.9,4.1,3.2,2.4,1.5,0.7,3.0,2.2,1.3,0.5,-0.4,-1.2,1.1,0.3,-0.6,-1.4,-2.3,-3.1,-4.0,-1.6,-2.4,-3.3,-4.1,-5.0,-5.8,-6.7,-7.1];
const C5 = [0.8,0,-0.8,1.5,0.7,-0.2,2.1,1.3,0.4,-0.4,-1.3,-2.1,0.2,-0.6,-1.5,-2.3,-3.2,-0.9,-1.7,-2.6,-3.4,-4.3,-5.1,-2.8,-3.6,-4.5,-5.3,-6.2,-7.0,-7.9,-5.6,-6.4,-7.3,-8.1,-9.0,-9.8,-10.7,-8.4,-9.2,-10.1,-10.9,-11.8,-12.6,-10.3,-11.1,-12.0,-12.8,-13.7,-14.1];
const C6 = [0,-0.9,-1.8,-2.7,-3.6,-1.4,-2.3,-3.2,-4.1,-5.0,-5.9,-3.7,-4.6,-5.5,-6.4,-7.3,-5.1,-6.0,-6.9,-7.8,-8.7,-9.6,-7.4,-8.3,-9.2,-10.1,-11.0,-11.9,-9.7,-10.6,-11.5,-12.4,-13.3,-14.2,-12.0,-12.9,-13.8,-14.7,-15.6,-16.5,-14.3,-15.2,-16.1,-17.0,-17.9,-18.8,-16.6,-17.5,-18.0];
const C7 = [0,2.0,1.2,3.5,2.7,1.8,1.0,3.3,2.5,1.6,0.8,-0.1,2.2,1.4,0.5,-0.3,-1.2,-2.0,0.3,-0.5,-1.4,-2.2,-3.1,-0.8,-1.6,-2.5,-3.3,-4.2,-5.0,-5.9,-3.6,-4.4,-5.3,-6.1,-7.0,-7.8,-5.5,-6.3,-7.2,-8.0,-8.9,-9.7,-10.6,-8.3,-9.1,-10.0,-10.8,-11.7,-12.1];
const C8 = [0,1.8,1.0,0.1,2.4,1.6,3.9,3.1,2.2,4.5,3.7,2.8,2.0,1.1,3.4,2.6,1.7,0.9,0,2.3,1.5,0.6,-0.2,-1.1,1.2,0.4,-0.5,-1.3,-2.2,0.1,-0.7,-1.6,-2.4,-3.3,-4.1,-1.8,-2.6,-3.5,-4.3,-5.2,-2.9,-3.7,-4.6,-5.4,-6.3,-7.1,-8.0,-8.8,-9.2];
const C9 = [0,-0.7,1.5,0.7,-0.2,-1.0,-1.9,0.4,-0.4,-1.3,-2.1,-3.0,-3.8,-1.5,-2.3,-3.2,-4.0,-4.9,-5.7,-6.6,-4.3,-5.1,-6.0,-6.8,-7.7,-8.5,-9.4,-7.1,-7.9,-8.8,-9.6,-10.5,-11.3,-12.2,-13.0,-10.7,-11.5,-12.4,-13.2,-14.1,-14.9,-15.8,-13.5,-14.3,-15.2,-16.0,-16.9,-17.7,-18.1];
const C10 = [0,2.5,4.8,4.0,3.1,6.2,5.4,4.5,3.7,2.8,7.5,6.7,5.8,5.0,4.1,3.3,2.4,5.6,4.8,3.9,3.1,2.2,1.4,0.5,4.2,3.4,2.5,1.7,0.8,0,-0.9,3.0,2.2,1.3,0.5,-0.4,-1.2,-2.1,-3.0,0.5,-0.3,-1.2,-2.0,-2.9,-3.7,-4.6,-1.5,-2.3,-2.8];
const GREEN_HIGH = [0,0.5,1.8,1.2,0.5,3.5,2.8,2.2,1.5,4.5,3.8,3.2,2.5,5.8,5.1,4.5,3.8,3.2,6.5,5.8,5.2,4.5,3.9,3.2,2.6,6.0,5.3,4.7,9.5,8.8,10.5,14.8,14.2,15.0,14.3,13.6,12.9,12.2,11.5,10.8,10.1,9.4,8.7,8.0,7.3,9.0,8.3,7.6,7.8];
const GREEN_MID = [0,-0.5,1.5,0.9,2.5,1.9,4.2,3.6,3.0,6.0,5.4,4.8,4.2,3.6,8.8,9.2,8.5,9.8,9.2,10.1,9.5,8.8,8.2,7.5,6.9,6.2,5.6,4.9,8.0,7.4,6.7,6.1,5.4,4.8,4.1,3.5,2.8,2.2,1.5,4.2,3.6,2.9,2.3,1.6,1.0,0.3,-0.3,-1.0,-1.3];
const YELLOW_HIGH = [0,1.5,0.9,0.3,3.6,3.0,2.4,1.8,1.2,0.6,0,-0.6,2.8,2.2,1.6,1.0,0.4,4.5,3.9,3.3,2.7,2.1,5.8,5.2,4.6,4.0,8.5,12.0,11.4,14.2,13.6,13.0,12.0,11.0,10.0,9.2,8.4,7.6,6.8,6.0,5.2,8.5,7.8,7.1,6.4,5.7,8.2,7.5,7.0];

const BUNDLE = [
  [B1,RED],[B2,GREEN],[B3,BLUE],[B4,MAGENTA],[B5,CYAN],[B6,DARKRED],[B7,YELLOW],[B8,BLACK],[B9,NAVY],[B10,PERI],
  [C1,BLUE],[C2,RED],[C3,CYAN],[C4,GREEN],[C5,MAGENTA],
  [B11,RED],[B12,GREEN],[B13,BLUE],[B14,MAGENTA],[B15,CYAN],[B16,DARKRED],[B17,YELLOW],[B18,NAVY],[B19,PERI],[B20,RED],
  [C6,BLUE],[C7,DARKRED],[C8,YELLOW],[C9,PERI],[C10,RED],
  [B21,GREEN],[B22,CYAN],[B23,DARKRED],[B24,MAGENTA],[B25,MAGENTA],[B26,CYAN],[B27,BLUE],[B28,RED],[B29,GREEN],[B30,NAVY],
  [B31,YELLOW],[B32,DARKRED],[B33,MAGENTA],[B34,CYAN],[B35,RED],[B36,BLUE],[B37,NAVY],[B38,YELLOW],[B39,BLACK],[B40,GREEN],
  [GREEN_HIGH,GREEN],[GREEN_MID,GREEN],[YELLOW_HIGH,YELLOW]
];
const TRACED = [
  [RED_EARLY,RED],[PERI_LOW,PERI],[CYAN_BOTTOM,CYAN],[DARKRED_HIGH,DARKRED],[DARKRED_26,DARKRED],[CYAN_HIGH,CYAN],
  [MAGENTA_HIGH,MAGENTA],[BLUE_HIGH,BLUE],[NAVY_TOP,NAVY],[BLUE_FLAT,BLUE],[YELLOW_FLAT11,YELLOW],[YELLOW_FLAT8,YELLOW],
  [MAGENTA_FLAT,MAGENTA],[YELLOW_FLAT0,YELLOW]
];

const FONT = 'DejaVu Sans Mono';
const series = [];
function addLine(data, color){
  series.push({type:'line', data, showSymbol:false, symbol:'none', silent:true, animation:false,
    lineStyle:{width:1, color}, itemStyle:{color}, xAxisIndex:0, yAxisIndex:0});
}
BUNDLE.forEach(([vals,color]) => addLine(vals.map((v,i)=>[HALF_HOURS[i], v]), color));
TRACED.forEach(([pairs,color]) => addLine(pairs, color));

const axisCommon = {
  axisLine:{show:true, onZero:false, lineStyle:{color:'#000', width:1}},
  axisTick:{show:true, inside:true, length:5, lineStyle:{color:'#000', width:1}},
  splitLine:{show:false}
};
const labelStyle = {color:'#000', fontFamily:FONT, fontSize:11.5};

const chart = echarts.init(document.getElementById('c'), null, {renderer:'svg'});
chart.setOption({
  animation:false,
  backgroundColor:'#fff',
  grid:{left:51, right:19, top:32, bottom:34},
  xAxis:[
    Object.assign({type:'value', min:X_MIN, max:X_MAX, interval:1, position:'bottom',
      axisLabel:Object.assign({margin:6, formatter:v => Number.isInteger(v) ? String(v) : ''}, labelStyle)}, axisCommon),
    Object.assign({type:'value', min:X_MIN, max:X_MAX, interval:1, position:'top', axisLabel:{show:false}}, axisCommon)
  ],
  yAxis:[
    Object.assign({type:'value', min:Y_MIN, max:Y_MAX, interval:10, position:'left',
      axisLabel:Object.assign({margin:9}, labelStyle)}, axisCommon),
    Object.assign({type:'value', min:Y_MIN, max:Y_MAX, interval:10, position:'right', axisLabel:{show:false}}, axisCommon)
  ],
  series,
  graphic:[
    {type:'text', x:336, y:15, style:{text:TITLE, fill:'#000', fontFamily:FONT, fontSize:11.5, textAlign:'center', textVerticalAlign:'middle'}},
    {type:'text', x:336, y:473, style:{text:X_NAME, fill:'#000', fontFamily:FONT, fontSize:11.5, textAlign:'center', textVerticalAlign:'middle'}},
    {type:'text', x:12, y:239, rotation:Math.PI/2, style:{text:Y_NAME, fill:'#000', fontFamily:FONT, fontSize:11.5, textAlign:'center', textVerticalAlign:'middle'}}
  ]
});
</script>
</body></html>
